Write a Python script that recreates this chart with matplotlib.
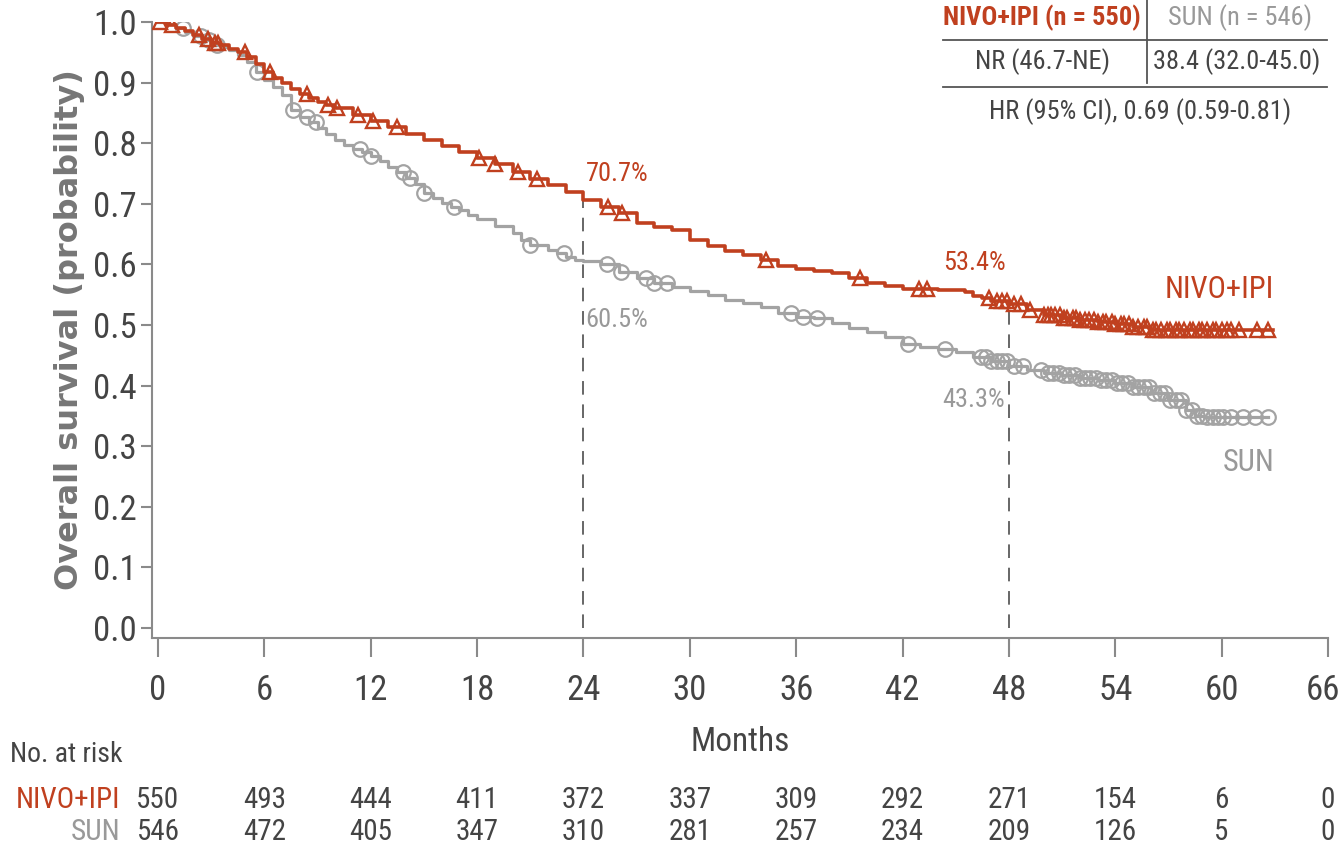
import numpy as np
import matplotlib
matplotlib.use("Agg")
import matplotlib.pyplot as plt
import matplotlib.font_manager as fm
from matplotlib.transforms import ScaledTranslation

# ---------------- data ----------------
months_ticks = [0, 6, 12, 18, 24, 30, 36, 42, 48, 54, 60, 66]
yticks = [0.0, 0.1, 0.2, 0.3, 0.4, 0.5, 0.6, 0.7, 0.8, 0.9, 1.0]

nivo_t = [0, 0.5, 1, 1.5, 2, 2.5, 3, 3.5, 4, 4.5, 5, 5.5, 6, 6.5, 7, 7.5, 8, 8.5, 9, 9.5,
          10, 11, 12, 13, 14, 15, 16, 17, 18, 19, 20, 21, 22, 23, 24, 25, 26, 27, 28, 29,
          30, 31, 32, 33, 34, 35, 36, 37, 38, 39, 40, 41, 42, 44, 45.5, 46, 46.5, 47, 48,
          49, 50, 51, 52, 53, 54, 55, 56, 62.9]
nivo_s = [1.0, 0.995, 0.99, 0.985, 0.979, 0.972, 0.966, 0.962, 0.956, 0.950, 0.942, 0.930,
          0.917, 0.908, 0.899, 0.890, 0.881, 0.874, 0.868, 0.863, 0.858, 0.847, 0.836, 0.826,
          0.816, 0.805, 0.795, 0.785, 0.776, 0.765, 0.753, 0.741, 0.731, 0.720, 0.707, 0.695,
          0.684, 0.668, 0.662, 0.656, 0.640, 0.630, 0.622, 0.615, 0.608, 0.598, 0.592, 0.589,
          0.586, 0.578, 0.569, 0.565, 0.560, 0.558, 0.554, 0.548, 0.544, 0.540, 0.534, 0.525,
          0.517, 0.512, 0.509, 0.505, 0.501, 0.496, 0.492, 0.492]
nivo_cens = [0.1, 0.8, 2.3, 2.8, 3.2, 3.4, 4.9, 6.3, 8.4, 9.6, 10.1, 11.3, 12.1, 13.5, 18.1,
             19.0, 20.3, 21.4, 25.4, 26.2, 34.3, 39.6, 42.9, 43.4, 46.9, 47.3, 47.6, 47.9,
             48.3, 48.7, 49.2, 50.0, 50.2, 50.4, 50.6, 50.9, 51.1, 51.3, 51.6, 51.8, 52.0,
             52.3, 52.5, 52.8, 53.0, 53.3, 53.5, 53.8, 54.0, 54.3, 54.5, 54.8, 55.0, 55.3,
             55.6, 55.8, 56.1, 56.3, 56.6, 56.9, 57.1, 57.4, 57.6, 57.9, 58.2, 58.4, 58.7,
             58.9, 59.2, 59.5, 59.7, 60.0, 60.3, 60.5, 61.0, 62.0, 62.6]

sun_t = [0, 0.5, 1, 1.5, 2, 2.5, 3, 3.5, 4, 4.5, 5, 5.5, 6, 6.5, 7, 7.5, 8, 8.5, 9, 9.5,
         10, 10.5, 11, 11.5, 12, 12.5, 13, 13.5, 14, 14.5, 15, 15.5, 16, 16.5, 17, 17.5,
         18, 19, 20, 20.5, 21, 22, 22.5, 23, 23.5, 24, 25, 26, 27, 28, 29, 30, 31, 32, 33,
         34, 35, 36, 37, 38, 39, 40, 41, 42, 43, 44, 45, 46, 47, 48, 49, 50, 51, 52, 53,
         54, 55, 56, 57, 58, 58.5, 59, 62.6]
sun_s = [1.0, 0.996, 0.99, 0.984, 0.977, 0.970, 0.962, 0.958, 0.953, 0.945, 0.934, 0.918,
         0.905, 0.893, 0.880, 0.855, 0.843, 0.835, 0.825, 0.815, 0.806, 0.797, 0.791, 0.786,
         0.779, 0.770, 0.761, 0.752, 0.743, 0.732, 0.718, 0.710, 0.702, 0.695, 0.689, 0.682,
         0.675, 0.663, 0.652, 0.640, 0.632, 0.624, 0.618, 0.613, 0.608, 0.605, 0.601, 0.588,
         0.578, 0.570, 0.563, 0.556, 0.549, 0.542, 0.536, 0.529, 0.519, 0.514, 0.511, 0.503,
         0.495, 0.488, 0.480, 0.468, 0.463, 0.460, 0.455, 0.448, 0.440, 0.433, 0.425, 0.420,
         0.417, 0.413, 0.409, 0.404, 0.398, 0.388, 0.376, 0.360, 0.350, 0.348, 0.348]
sun_cens = [1.4, 2.4, 2.9, 3.3, 5.6, 7.6, 8.4, 8.9, 11.4, 12.0, 13.8, 14.2, 15.0, 16.7, 21.0,
            22.9, 25.3, 26.1, 27.5, 28.0, 28.7, 35.7, 36.4, 37.2, 42.3, 44.4, 46.4, 46.7,
            47.0, 47.3, 47.6, 47.9, 48.3, 48.8, 49.8, 50.2, 50.5, 50.8, 51.1, 51.4, 51.7,
            52.0, 52.3, 52.6, 52.9, 53.2, 53.5, 53.8, 54.1, 54.4, 54.7, 55.0, 55.3, 55.6,
            55.9, 56.2, 56.5, 56.8, 57.1, 57.4, 57.7, 58.0, 58.3, 58.6, 58.9, 59.2, 59.5,
            59.8, 60.1, 60.5, 61.2, 61.9, 62.6]

risk_nivo = [550, 493, 444, 411, 372, 337, 309, 292, 271, 154, 6, 0]
risk_sun = [546, 472, 405, 347, 310, 281, 257, 234, 209, 126, 5, 0]

landmarks = [24, 48]
nivo_land = ["70.7%", "53.4%"]
sun_land = ["60.5%", "43.3%"]

table_header = ["NIVO+IPI (n = 550)", "SUN (n = 546)"]
table_row = ["NR (46.7-NE)", "38.4 (32.0-45.0)"]
table_hr = "HR (95% CI), 0.69 (0.59-0.81)"

# ---------------- style ----------------
RED = "#C0401F"
GRAY = "#A3A3A3"
GTXT = "#999999"
DARK = "#444444"
AXC = "#8A8A8A"

names = {f.name for f in fm.fontManager.ttflist}
cond_family = None
for n in ["Liberation Sans Narrow", "Roboto Condensed", "Open Sans Condensed", "Noto Sans Condensed"]:
    if n in names:
        cond_family = n
        break
has_dv_cond = any(f.name == "DejaVu Sans" and "ondensed" in f.fname for f in fm.fontManager.ttflist)
if cond_family is None:
    cond_family = "DejaVu Sans" if has_dv_cond else "Liberation Sans"
COND = dict(family=cond_family, stretch="condensed")

W, H = 1342, 851
fig = plt.figure(figsize=(W / 100, H / 100), dpi=100)
L, R, T, B = 152, 1328, 22, 638
ax = fig.add_axes([L / W, 1 - B / H, (R - L) / W, (B - T) / H])

def px(x, y):
    return x / W, 1 - y / H

def step_val(ts, ss, t):
    i = np.searchsorted(ts, t, side="right") - 1
    return ss[max(i, 0)]

# curves
ax.step(sun_t, sun_s, where="post", color=GRAY, lw=2.3, zorder=3)
ax.step(nivo_t, nivo_s, where="post", color=RED, lw=2.6, zorder=4)

sun_cy = [step_val(sun_t, sun_s, t) for t in sun_cens]
nivo_cy = [step_val(nivo_t, nivo_s, t) for t in nivo_cens]
ax.plot(sun_cens, sun_cy, ls="none", marker="o", ms=10.5, mfc="none", mec=GRAY, mew=1.6, zorder=3)
ax.plot(nivo_cens, nivo_cy, ls="none", marker="^", ms=10.5, mfc="none", mec=RED, mew=1.7, zorder=5)

# landmark dashed lines
for lm in landmarks:
    top = step_val(nivo_t, nivo_s, lm)
    ax.plot([lm, lm], [0, top], color="#666666", lw=1.4, ls=(0, (7, 5)), zorder=2)

ax.set_xlim(-0.34, 66)
ax.set_ylim(-0.0165, 1.0)
ax.set_xticks(months_ticks)
ax.set_yticks(yticks)
ax.set_yticklabels([f"{v:.1f}" for v in yticks])
for s in ["top", "right"]:
    ax.spines[s].set_visible(False)
for s in ["left", "bottom"]:
    ax.spines[s].set_color(AXC)
    ax.spines[s].set_linewidth(1.5)
ax.tick_params(axis="x", length=14, width=1.5, color=AXC, pad=12, labelsize=25, labelcolor=DARK)
ax.tick_params(axis="y", length=8, width=1.5, color=AXC, pad=3, labelsize=25, labelcolor=DARK)
for lab in ax.get_xticklabels() + ax.get_yticklabels():
    lab.set_family(cond_family)
    lab.set_stretch("condensed")
last = ax.get_xticklabels()[-1]
last.set_transform(last.get_transform() + ScaledTranslation(-5 / 100, 0, fig.dpi_scale_trans))

ax.set_ylabel("Overall survival (probability)", fontsize=23, fontweight="bold",
              color="#767676", family="DejaVu Sans", labelpad=6)

# landmark labels
fig.text(*px(617, 174), nivo_land[0], color=RED, fontsize=19, ha="center", va="center", **COND)
fig.text(*px(617, 320), sun_land[0], color=GTXT, fontsize=19, ha="center", va="center", **COND)
fig.text(*px(974, 263), nivo_land[1], color=RED, fontsize=19, ha="center", va="center", **COND)
fig.text(*px(974, 400), sun_land[1], color=GTXT, fontsize=19, ha="center", va="center", **COND)

fig.text(*px(1274, 290), "NIVO+IPI", color=RED, fontsize=22, ha="right", va="center", **COND)
fig.text(*px(1274, 462), "SUN", color=GTXT, fontsize=22, ha="right", va="center", **COND)

# table
fig.add_artist(plt.Line2D([943 / W, 1327 / W], [1 - 40 / H] * 2, color="#555555", lw=1.3))
fig.add_artist(plt.Line2D([943 / W, 1327 / W], [1 - 87 / H] * 2, color="#555555", lw=1.3))
fig.add_artist(plt.Line2D([1147 / W] * 2, [1.0, 1 - 83 / H], color="#555555", lw=1.3))
fig.text(*px(1042, 18), table_header[0], color=RED, fontsize=19, fontweight="semibold", ha="center", va="center", **COND)
fig.text(*px(1240, 18), table_header[1], color=GTXT, fontsize=19, ha="center", va="center", **COND)
fig.text(*px(1043, 62), table_row[0], color=DARK, fontsize=19, ha="center", va="center", **COND)
fig.text(*px(1237, 62), table_row[1], color=DARK, fontsize=19, ha="center", va="center", **COND)
fig.text(*px(1140, 112), table_hr, color=DARK, fontsize=19, ha="center", va="center", **COND)

# x label
fig.text(*px(740, 742), "Months", color=DARK, fontsize=24, ha="center", va="center", **COND)

# at risk table
fig.text(*px(10, 755), "No. at risk", color=DARK, fontsize=20, ha="left", va="center", **COND)
fig.text(*px(120, 800), "NIVO+IPI", color=RED, fontsize=21, ha="right", va="center", **COND)
fig.text(*px(120, 832), "SUN", color=GTXT, fontsize=21, ha="right", va="center", **COND)
for m, a, b in zip(months_ticks, risk_nivo, risk_sun):
    xf = ax.transData.transform((m, 0))[0] / W
    fig.text(xf, 1 - 800 / H, str(a), color=DARK, fontsize=21, ha="center", va="center", **COND)
    fig.text(xf, 1 - 832 / H, str(b), color=DARK, fontsize=21, ha="center", va="center", **COND)

fig.savefig("out.png", dpi=100)
